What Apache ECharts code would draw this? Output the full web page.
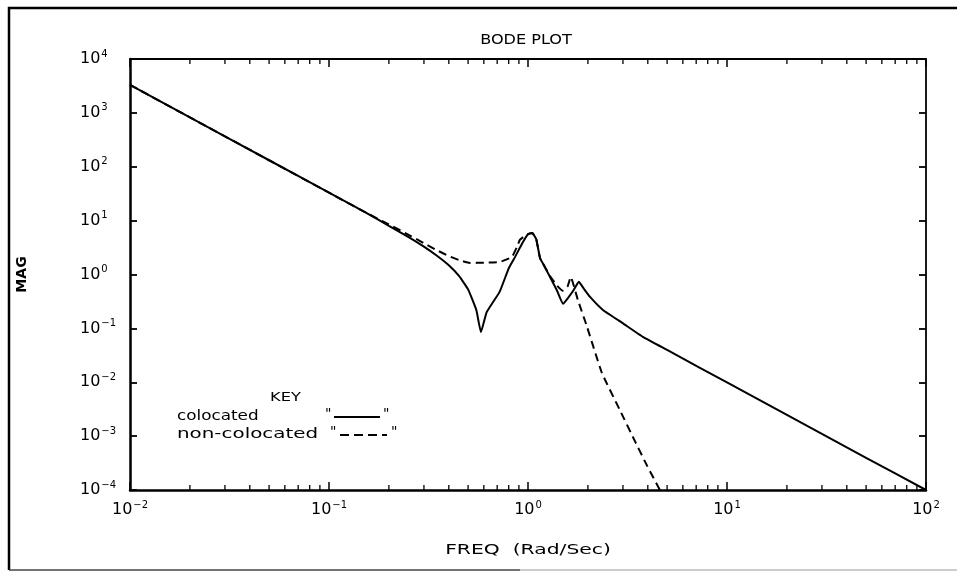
<!DOCTYPE html>
<html>
<head>
<meta charset="utf-8">
<script src="https://cdn.jsdelivr.net/npm/echarts@6/dist/echarts.min.js"></script>
<style>
  html, body { margin: 0; padding: 0; background: #fff; }
  #chart { width: 957px; height: 580px; }
</style>
</head>
<body>
<div id="chart"></div>
<script>
// colocated (solid)
var freqSolid = [0.01, 0.02, 0.05, 0.1, 0.15, 0.2, 0.25, 0.3, 0.35, 0.4, 0.45, 0.5, 0.55, 0.58, 0.62, 0.72, 0.8, 0.86, 0.9, 0.95, 1.0, 1.05, 1.1, 1.15, 1.2, 1.3, 1.4, 1.5, 1.6, 1.7, 1.8, 1.9, 2.05, 2.38, 3.0, 3.78, 5, 7.31, 10, 20, 50, 100]
var magSolid = [3300, 825, 132, 33, 14.7, 8.0, 5.0, 3.29, 2.2, 1.48, 0.94, 0.53, 0.22, 0.085, 0.2, 0.475, 1.3, 2.1, 2.9, 4.2, 5.6, 5.9, 4.5, 2.0, 1.5, 0.85, 0.5, 0.285, 0.38, 0.52, 0.73, 0.557, 0.384, 0.22, 0.124, 0.0695, 0.0397, 0.0185, 0.0099, 0.00247, 0.000395, 0.0001]
// non-colocated (dashed)
var freqDashed = [0.01, 0.02, 0.05, 0.1, 0.15, 0.2, 0.25, 0.3, 0.35, 0.4, 0.45, 0.51, 0.6, 0.72, 0.83, 0.88, 0.91, 0.95, 1.0, 1.05, 1.1, 1.15, 1.2, 1.3, 1.4, 1.49, 1.58, 1.64, 1.78, 1.98, 2.35, 2.9, 3.45, 3.97, 4.6]
var magDashed = [3300, 825, 132, 33, 14.7, 8.5, 5.5, 3.8, 2.8, 2.2, 1.85, 1.64, 1.65, 1.71, 2.12, 3.25, 4.4, 5.0, 5.6, 5.9, 4.5, 2.0, 1.5, 0.9, 0.62, 0.5, 0.6, 0.9, 0.338, 0.107, 0.015, 0.003, 0.0008, 0.00028, 0.0001]
// minor tick positions on the frequency axis
var minorTicks = [0.02, 0.03, 0.04, 0.05, 0.06, 0.07, 0.08, 0.09,
  0.2, 0.3, 0.4, 0.5, 0.6, 0.7, 0.8, 0.9,
  2, 3, 4, 5, 6, 7, 8, 9,
  20, 30, 40, 50, 60, 70, 80, 90]

var FONT = 'DejaVu Sans'

function zip (xs, ys) {
  return xs.map(function (x, i) { return [x, ys[i]] })
}

function powLabel (value) {
  var e = Math.round(Math.log10(value))
  return '{b|10}{s|' + (e < 0 ? '\u2212' + (-e) : e) + '}'
}

var richLabel = {
  b: { fontFamily: FONT, fontSize: 16, color: '#000' },
  s: { fontFamily: FONT, fontSize: 10, color: '#000', padding: [0, 0, 10, 1] }
}

// stretched text, like the plotter font of the original
function wideText (text, x, y, size, sx, align) {
  return {
    type: 'text',
    x: x,
    y: y,
    scaleX: sx,
    style: {
      text: text,
      font: size + 'px "DejaVu Sans"',
      fill: '#000',
      textAlign: align,
      textVerticalAlign: 'middle'
    }
  }
}

var chart = echarts.init(document.getElementById('chart'))
var option = {
  animation: false,
  backgroundColor: '#fff',
  grid: { left: 130, right: 31, top: 59, bottom: 90 },
  xAxis: [
    {
      type: 'log',
      logBase: 10,
      min: 0.01,
      max: 100,
      splitNumber: 4,
      axisLine: { lineStyle: { color: '#000', width: 2.5 } },
      axisTick: { inside: true, length: 8, lineStyle: { color: '#000', width: 1.5 } },
      axisLabel: { margin: 10, formatter: powLabel, rich: richLabel },
      splitLine: { show: false }
    },
    {
      type: 'log',
      logBase: 10,
      min: 0.01,
      max: 100,
      splitNumber: 4,
      position: 'top',
      axisLine: { lineStyle: { color: '#000', width: 1.8 } },
      axisTick: { inside: true, length: 8, lineStyle: { color: '#000', width: 1.5 } },
      axisLabel: { show: false },
      splitLine: { show: false }
    }
  ],
  yAxis: [
    {
      type: 'log',
      logBase: 10,
      min: 1e-4,
      max: 1e4,
      splitNumber: 8,
      name: 'MAG',
      nameLocation: 'middle',
      nameGap: 101,
      nameRotate: 90,
      nameTextStyle: { fontFamily: FONT, fontSize: 14, fontWeight: 'bold', color: '#000' },
      axisLine: { lineStyle: { color: '#000', width: 2.5 } },
      axisTick: { inside: true, length: 7, lineStyle: { color: '#000', width: 1.8 } },
      axisLabel: { margin: 50, align: 'left', formatter: powLabel, rich: richLabel },
      splitLine: { show: false }
    },
    {
      type: 'log',
      logBase: 10,
      min: 1e-4,
      max: 1e4,
      splitNumber: 8,
      position: 'right',
      axisLine: { lineStyle: { color: '#000', width: 1.8 } },
      axisTick: { inside: true, length: 7, lineStyle: { color: '#000', width: 1.8 } },
      axisLabel: { show: false },
      splitLine: { show: false }
    }
  ],
  series: [
    {
      name: 'colocated',
      type: 'line',
      data: zip(freqSolid, magSolid),
      showSymbol: false,
      smooth: 0.12,
      lineStyle: { color: '#000', width: 2 }
    },
    {
      name: 'non-colocated',
      type: 'line',
      data: zip(freqDashed, magDashed),
      showSymbol: false,
      smooth: 0.12,
      lineStyle: { color: '#000', width: 2, type: [8, 5] }
    },
    {
      type: 'custom',
      silent: true,
      clip: false,
      data: minorTicks.map(function (v) { return [v, 1] }),
      renderItem: function (params, api) {
        var v = api.value(0)
        var b = api.coord([v, 1e-4])
        var t = api.coord([v, 1e4])
        var st = { stroke: '#000', lineWidth: 1.3 }
        return {
          type: 'group',
          children: [
            { type: 'line', shape: { x1: b[0], y1: b[1], x2: b[0], y2: b[1] - 5 }, style: st },
            { type: 'line', shape: { x1: t[0], y1: t[1], x2: t[0], y2: t[1] + 5 }, style: st }
          ]
        }
      }
    }
  ],
  graphic: [
    {
      type: 'polyline',
      shape: { points: [[957, 8], [9, 8], [9, 570]] },
      style: { stroke: '#000', lineWidth: 2.5, fill: null }
    },
    {
      type: 'line',
      shape: { x1: 9, y1: 570, x2: 520, y2: 570 },
      style: { stroke: '#444', lineWidth: 1.5 }
    },
    {
      type: 'line',
      shape: { x1: 520, y1: 570, x2: 957, y2: 570 },
      style: { stroke: '#bbb', lineWidth: 1.5 }
    },
    wideText('BODE PLOT', 526, 40, 14, 1.15, 'center'),
    wideText('FREQ  (Rad/Sec)', 528, 550, 14, 1.45, 'center'),
    wideText('KEY', 270, 398, 13, 1.25, 'left'),
    wideText('colocated', 177, 416, 14, 1.2, 'left'),
    wideText('"', 325, 414, 14, 1, 'left'),
    { type: 'line', shape: { x1: 334, y1: 417, x2: 380, y2: 417 }, style: { stroke: '#000', lineWidth: 2 } },
    wideText('"', 383, 414, 14, 1, 'left'),
    wideText('non-colocated', 177, 434, 14, 1.42, 'left'),
    wideText('"', 330, 432, 14, 1, 'left'),
    { type: 'line', shape: { x1: 340, y1: 435, x2: 387, y2: 435 }, style: { stroke: '#000', lineWidth: 2, lineDash: [9, 5] } },
    wideText('"', 391, 432, 14, 1, 'left')
  ]
}
chart.setOption(option)
</script>
</body>
</html>
